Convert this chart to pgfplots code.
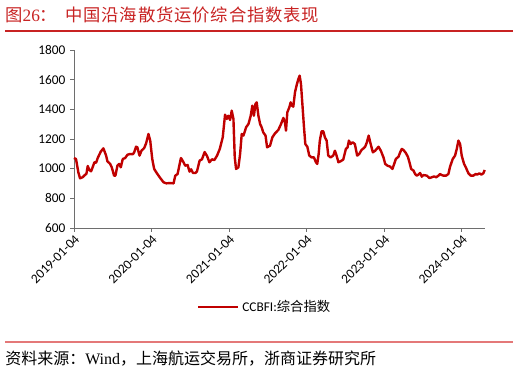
\documentclass[border=0pt]{standalone}
\usepackage{pgfplots}
\pgfplotsset{compat=1.18}
\usepackage{fontspec}
\setmainfont{Carlito}
\newfontfamily\cjk{Noto Sans CJK SC}
\newfontfamily\cjktitle[LetterSpace=5]{Noto Sans CJK SC}
\newfontfamily\serif{Liberation Serif}
\definecolor{linered}{RGB}{192,0,0}
\definecolor{titlered}{RGB}{200,35,35}
\definecolor{pinkline}{RGB}{228,120,120}
\definecolor{axisgray}{RGB}{110,110,110}
\begin{document}
\begin{tikzpicture}
\useasboundingbox (0,0) rectangle (390pt,280.5pt);
\node[anchor=west, inner sep=0, text=titlered, font=\fontsize{13}{15}\selectfont] at (3.75pt,269.3pt)
  {{\cjk 图}{\serif 26}{\cjk ：}\hspace{6pt}{\cjktitle 中国沿海散货运价综合指数表现}};
\draw[titlered, line width=0.8pt] (3.75pt,257.25pt) -- (384.75pt,257.25pt);
\draw[pinkline, line width=0.9pt] (3.75pt,24pt) -- (384.75pt,24pt);
\node[anchor=west, inner sep=0, font=\fontsize{12}{14}\selectfont] at (3.75pt,11.8pt)
  {{\cjk 资料来源：}{\serif Wind}{\cjk ，上海航运交易所，浙商证券研究所}};
\begin{axis}[
  at={(55.5pt,109.5pt)}, anchor=south west,
  width=308pt, height=133.5pt, scale only axis,
  xmin=0, xmax=5.296, ymin=600, ymax=1800,
  axis lines*=left,
  axis line style={axisgray, line width=0.6pt},
  tick style={axisgray, line width=0.6pt},
  tick align=outside, major tick length=3pt,
  ytick={600,800,1000,1200,1400,1600,1800},
  xtick={0,1,2,3,4,5},
  xticklabels={2019-01-04,2020-01-04,2021-01-04,2022-01-04,2023-01-04,2024-01-04},
  x tick label style={rotate=45, anchor=north east, inner sep=1pt},
  tick label style={font=\fontsize{10}{12}\selectfont},
  /pgf/number format/assume math mode=true,
  /pgf/number format/1000 sep={},
  legend style={at={(0.465,-0.444)}, anchor=center, draw=none, fill=none,
    font=\fontsize{10}{12}\selectfont, inner sep=1pt},
  legend image code/.code={\draw[#1, line width=2pt] (0pt,0pt) -- (30pt,0pt);},
  clip=false,
]
\addplot[linered, line width=1.8pt, line join=round] coordinates {
(0,1072) (0.026,1065) (0.056,975) (0.078,935) (0.11,942) (0.14,957) (0.16,965)
(0.177,1018) (0.198,991) (0.22,982) (0.24,1009) (0.263,1043) (0.285,1040) (0.306,1072)
(0.345,1115) (0.379,1137) (0.414,1088) (0.431,1050) (0.466,1032) (0.487,1009)
(0.517,953) (0.534,953) (0.56,1020) (0.582,1032) (0.603,1009) (0.629,1065) (0.66,1072)
(0.69,1094) (0.724,1099) (0.759,1097) (0.776,1110) (0.80,1148) (0.817,1144) (0.845,1088)
(0.87,1121) (0.905,1139) (0.93,1171) (0.96,1234) (0.983,1189) (1.009,1065) (1.034,998)
(1.069,969) (1.112,937) (1.155,908) (1.19,901) (1.233,903) (1.284,901) (1.306,953)
(1.336,964) (1.358,1020) (1.379,1072) (1.405,1050) (1.435,1020) (1.465,1025) (1.49,980)
(1.51,996) (1.534,971) (1.565,971) (1.586,982) (1.62,1054) (1.65,1063) (1.685,1112)
(1.716,1085) (1.746,1043) (1.78,1063) (1.81,1058) (1.845,1088) (1.88,1133) (1.918,1211)
(1.948,1364) (1.97,1335) (1.99,1357) (2.013,1328) (2.034,1391) (2.056,1335) (2.073,1076)
(2.09,998) (2.12,1009) (2.142,1099) (2.163,1234) (2.185,1223) (2.206,1256) (2.219,1279)
(2.25,1301) (2.279,1357) (2.30,1425) (2.32,1357) (2.34,1436) (2.356,1447) (2.378,1357)
(2.40,1301) (2.42,1279) (2.44,1245) (2.47,1223) (2.49,1144) (2.528,1155) (2.558,1211)
(2.592,1238) (2.635,1261) (2.67,1301) (2.70,1342) (2.72,1312) (2.734,1256) (2.751,1380)
(2.777,1414) (2.794,1447) (2.811,1425) (2.828,1418) (2.85,1515) (2.87,1560) (2.893,1604)
(2.91,1627) (2.927,1571) (2.948,1414) (2.966,1279) (2.983,1166) (3.009,1148) (3.034,1088)
(3.064,1076) (3.094,1076) (3.12,1043) (3.137,1032) (3.155,1099) (3.17,1189) (3.193,1252)
(3.215,1252) (3.236,1211) (3.258,1189) (3.279,1088) (3.309,1076) (3.343,1088) (3.365,1121)
(3.386,1088) (3.41,1043) (3.438,1050) (3.472,1061) (3.506,1133) (3.528,1144) (3.545,1189)
(3.567,1166) (3.592,1178) (3.622,1166) (3.652,1088) (3.678,1099) (3.708,1126) (3.725,1133)
(3.755,1148) (3.777,1178) (3.80,1223) (3.82,1178) (3.854,1110) (3.884,1121) (3.927,1148)
(3.957,1121) (3.991,1076) (4.013,1032) (4.043,1020) (4.077,1014) (4.107,998) (4.129,1032)
(4.15,1065) (4.185,1081) (4.206,1110) (4.227,1133) (4.249,1126) (4.279,1106) (4.305,1081)
(4.326,1043) (4.348,998) (4.378,987) (4.399,964) (4.42,953) (4.442,960) (4.463,971)
(4.485,946) (4.506,957) (4.55,953) (4.584,937) (4.614,942) (4.644,948) (4.67,942)
(4.70,953) (4.72,964) (4.742,957) (4.764,953) (4.798,953) (4.828,964) (4.85,1014)
(4.884,1065) (4.914,1088) (4.936,1133) (4.957,1189) (4.979,1166) (5.0,1088) (5.03,1032)
(5.056,1005) (5.086,969) (5.116,953) (5.15,953) (5.18,964) (5.2,960) (5.227,969)
(5.253,960) (5.279,969) (5.296,991)
};
\addlegendentry{CCBFI:{\cjk 综合指数}}
\end{axis}
\end{tikzpicture}
\end{document}
